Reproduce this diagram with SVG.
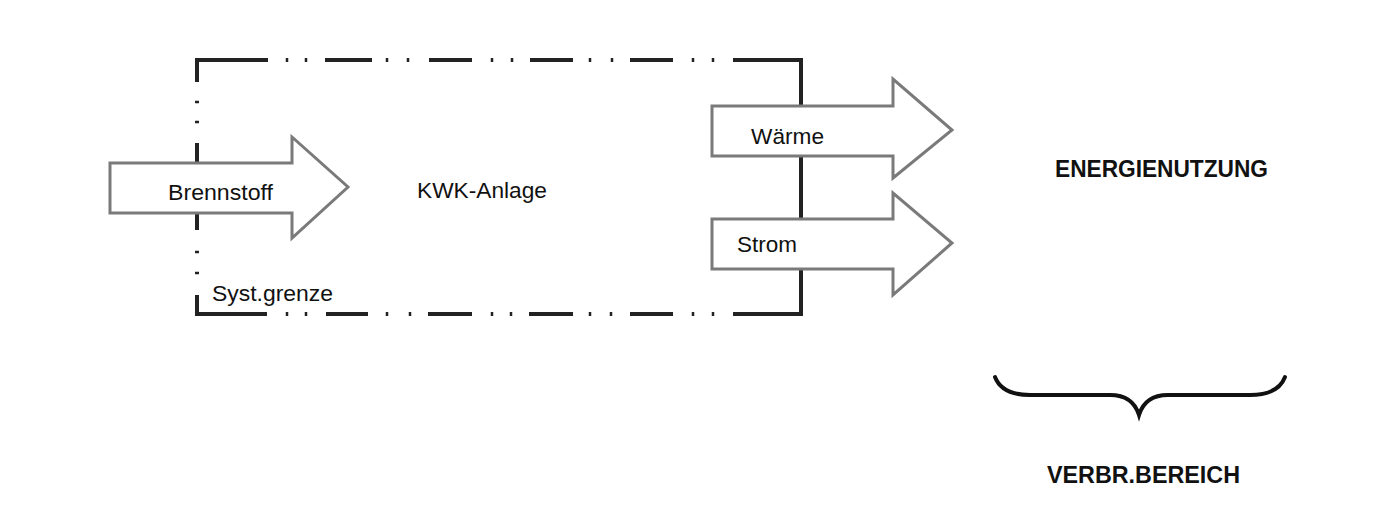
<svg xmlns="http://www.w3.org/2000/svg" width="1385" height="516" viewBox="0 0 1385 516">
<style>
text{font-family:"Liberation Sans",Arial,sans-serif;fill:#111}
.lbl{font-size:22px}
.bold{font-size:24px;font-weight:bold}
.bd{stroke:#222;stroke-width:4;fill:none}
.dot{stroke:#222;stroke-width:2.5;fill:none}
.arr{fill:#fff;stroke:#7a7a7a;stroke-width:3;stroke-linejoin:miter}
.brace{fill:none;stroke:#111;stroke-width:4;stroke-linecap:round}
</style>
<rect width="1385" height="516" fill="#fff"/>
<g id="systemgrenze">
  <path class="bd" d="M197,82 V60 H268 M325,60 H372 M429,60 H472 M530,60 H573 M630,60 H673 M733,60 H801 V314 H733 M673,314 H630 M573,314 H529 M472,314 H428 M368,314 H326 M267,314 H197 V295 M197,230 V143"/>
  <path class="dot" d="M287,58 v4 M306,58 v4 M387,58 v4 M408,58 v4 M492,58 v4 M512,58 v4 M590,58 v4 M612,58 v4 M693,58 v4 M713,58 v4
  M287,312 v4 M306,312 v4 M387,312 v4 M410,312 v4 M492,312 v4 M511,312 v4 M590,312 v4 M611,312 v4 M693,312 v4 M713,312 v4
  M195,102 h4 M195,122 h4 M195,252 h4 M195,273 h4"/>
  <text class="lbl" x="212" y="301" textLength="121" lengthAdjust="spacingAndGlyphs">Syst.grenze</text>
</g>
<g id="kwk-anlage">
  <text class="lbl" x="417" y="198" textLength="130" lengthAdjust="spacingAndGlyphs">KWK-Anlage</text>
</g>
<g id="connectors">
  <g id="brennstoff">
    <polygon class="arr" points="110,163 292,163 292,137 348,187 292,238 292,213 110,213"/>
    <text class="lbl" x="168" y="200" textLength="105" lengthAdjust="spacingAndGlyphs">Brennstoff</text>
  </g>
  <g id="waerme">
    <polygon class="arr" points="712,106 893,106 893,79 952,130 893,178 893,156 712,156"/>
    <text class="lbl" x="751" y="144" textLength="73" lengthAdjust="spacingAndGlyphs">Wärme</text>
  </g>
  <g id="strom">
    <polygon class="arr" points="712,219 893,219 893,193 952,243 893,295 893,269 712,269"/>
    <text class="lbl" x="737" y="252" textLength="60" lengthAdjust="spacingAndGlyphs">Strom</text>
  </g>
</g>
<g id="energienutzung">
  <text class="bold" x="1055" y="177" textLength="213" lengthAdjust="spacingAndGlyphs">ENERGIENUTZUNG</text>
</g>
<g id="verbrbereich">
  <path class="brace" d="M995,377 C1000,390 1012,395 1030,395 L1110,395 C1125,395 1135,402 1139,415 C1143,402 1153,395 1168,395 L1250,395 C1268,395 1280,390 1285,377"/>
  <text class="bold" x="1047" y="483" textLength="193" lengthAdjust="spacingAndGlyphs">VERBR.BEREICH</text>
</g>
</svg>
